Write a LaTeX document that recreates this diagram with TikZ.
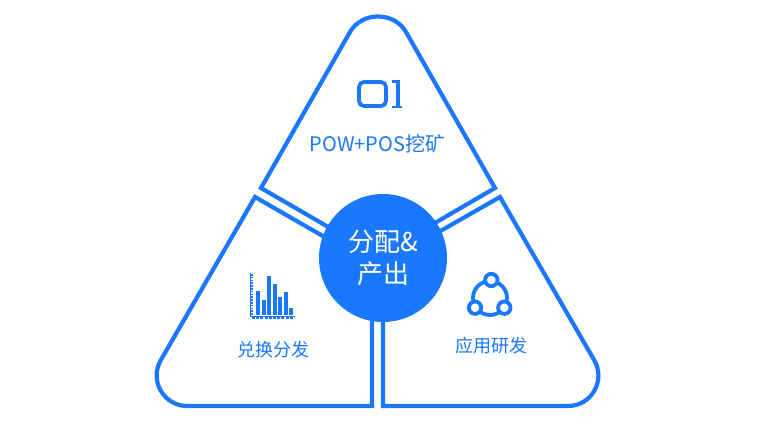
\documentclass[tikz,border=0pt]{standalone}
\usepackage{fontspec}
\setmainfont{Noto Sans CJK SC}
\definecolor{brandblue}{HTML}{1A78FF}
\begin{document}
\begin{tikzpicture}[x=1pt,y=-1pt]
  \useasboundingbox (0,0) rectangle (764,437);
  \tikzset{
    outline/.style={brandblue,line width=4.2pt},
    iconline/.style={brandblue,line width=3.8pt},
    caption/.style={text=brandblue,inner sep=0pt}
  }

  \draw[outline] (330,228) -- (261,188) -- (350,32)
    .. controls (362,11.3) and (394,11.3) .. (406,32) -- (495,188) -- (428,227);
  \draw[outline] (335,243) -- (255,197) -- (160.8,360.1)
    .. controls (149,380.5) and (163.7,406) .. (187.3,406) -- (372,406) -- (372,310);
  \draw[outline] (430,237) -- (500,197) -- (594.2,360.1)
    .. controls (606,380.5) and (591.6,406) .. (568,406) -- (383,406) -- (383,310);

  \node[circle,fill=brandblue,minimum size=128pt,inner sep=0pt,text=white,
    align=center,font=\fontsize{26}{33}\selectfont] (share) at (383,258) {\raisebox{-1pt}{分配\&}\\产出};

  % icon 01
  \draw[iconline,rounded corners=5pt] (359,82) rectangle (386,106);
  \draw[iconline,line width=3pt] (392,81.5) -- (398,81.5);
  \draw[iconline,line width=4pt] (397.5,80) -- (397.5,107);
  \draw[iconline,line width=2.6pt] (392,107) -- (402,107);
  \node[caption,font=\fontsize{20}{20}\selectfont] (mining) at (377.5,144) {POW+POS挖矿};

  % icon bars
  \foreach \x/\h in {256/291,262/300,267/276,273/284,278/297,284/292,289/308}
    \fill[brandblue] (\x,315) rectangle (\x+4.4,\h);
  \draw[brandblue,line width=1.6pt] (250.5,273) -- (250.5,316.5) -- (295,316.5);
  \draw[brandblue,line width=3pt,dash pattern=on 1.5pt off 1.3pt] (251,274) -- (251,316);
  \draw[brandblue,line width=3pt,dash pattern=on 3pt off 1.2pt] (252,317) -- (294,317);
  \node[caption,font=\fontsize{18}{18}\selectfont] (exchange) at (273,349.5) {兑换分发};

  % icon ring
  \draw[iconline] (490,298) circle[radius=17];
  \foreach \x/\y in {491.3/280,475/307.7,504.3/307.7}
    \draw[iconline,fill=white] (\x,\y) circle[radius=6.2];
  \node[caption,font=\fontsize{18}{18}\selectfont] (research) at (491,345.5) {应用研发};
\end{tikzpicture}
\end{document}
